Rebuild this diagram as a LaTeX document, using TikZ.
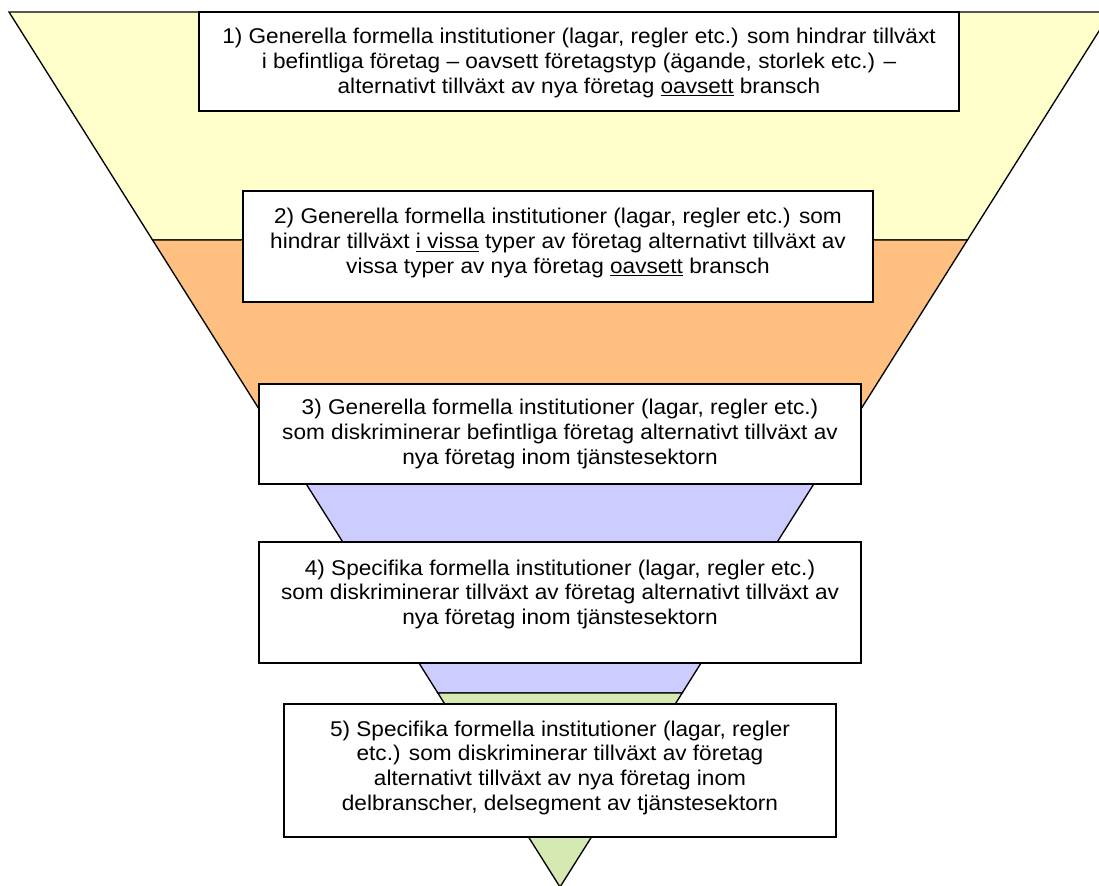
\documentclass[tikz,border=0pt]{standalone}
\usepackage{fontspec}
\setmainfont[FakeStretch=1.06]{Liberation Sans}
\usetikzlibrary{calc}
\definecolor{bandA}{HTML}{FFFFCC}
\definecolor{bandB}{HTML}{FFBF80}
\definecolor{bandC}{HTML}{CCCCFF}
\definecolor{bandD}{HTML}{D7E9B3}
\tikzset{
  frame/.style={draw,fill=white,line width=1.1pt,inner sep=0pt},
  boxtext/.style={anchor=north,inner sep=0pt,align=center,font=\fontsize{16}{18.6}\selectfont},
  band/.style={draw,line width=1pt,line join=miter}
}
\begin{document}
\begin{tikzpicture}[x=0.75pt,y=-0.75pt]
\useasboundingbox (0,0) rectangle (1099,885);
\begin{scope}
\clip (0,0) rectangle (1099,885);
\coordinate (tl) at (9,12);
\coordinate (tr) at (1111,12);
\coordinate (ap) at (560,887);
\foreach \t [count=\i] in {0.2606,0.4663,0.7783}{
  \coordinate (l\i) at ($(tl)!\t!(ap)$);
  \coordinate (r\i) at ($(tr)!\t!(ap)$);
}
\filldraw[band,fill=bandA] (tl) -- (tr) -- (r1) -- (l1) -- cycle;
\filldraw[band,fill=bandB] (l1) -- (r1) -- (r2) -- (l2) -- cycle;
\filldraw[band,fill=bandC] (l2) -- (r2) -- (r3) -- (l3) -- cycle;
\filldraw[band,fill=bandD] (l3) -- (r3) -- (ap) -- cycle;
\end{scope}
\node[frame,minimum width=570pt,minimum height=74.25pt] (f1) at (579,61.5) {};
\node[boxtext] (t1) at ($(f1.north)+(0,17)$) {1) Generella formella institutioner (lagar, regler etc.) som hindrar tillväxt\\
i befintliga företag – oavsett företagstyp (ägande, storlek etc.) –\\
alternativt tillväxt av nya företag \underline{oavsett} bransch};
\node[frame,minimum width=472.5pt,minimum height=83.25pt] (f2) at (558,246.5) {};
\node[boxtext] (t2) at ($(f2.north)+(0,18)$) {2) Generella formella institutioner (lagar, regler etc.) som\\
hindrar tillväxt \underline{i vissa} typer av företag alternativt tillväxt av\\
vissa typer av nya företag \underline{oavsett} bransch};
\node[frame,minimum width=451.5pt,minimum height=75pt] (f3) at (560,434) {};
\node[boxtext] (t3) at ($(f3.north)+(0,16)$) {3) Generella formella institutioner (lagar, regler etc.)\\
som diskriminerar befintliga företag alternativt tillväxt av\\
nya företag inom tjänstesektorn};
\node[frame,minimum width=451.5pt,minimum height=90.75pt] (f4) at (560,602.5) {};
\node[boxtext] (t4) at ($(f4.north)+(0,18)$) {4) Specifika formella institutioner (lagar, regler etc.)\\
som diskriminerar tillväxt av företag alternativt tillväxt av\\
nya företag inom tjänstesektorn};
\node[frame,minimum width=414pt,minimum height=99.75pt] (f5) at (560,770.5) {};
\node[boxtext] (t5) at ($(f5.north)+(0,17)$) {5) Specifika formella institutioner (lagar, regler\\
etc.) som diskriminerar tillväxt av företag\\
alternativt tillväxt av nya företag inom\\
delbranscher, delsegment av tjänstesektorn};
\end{tikzpicture}
\end{document}
